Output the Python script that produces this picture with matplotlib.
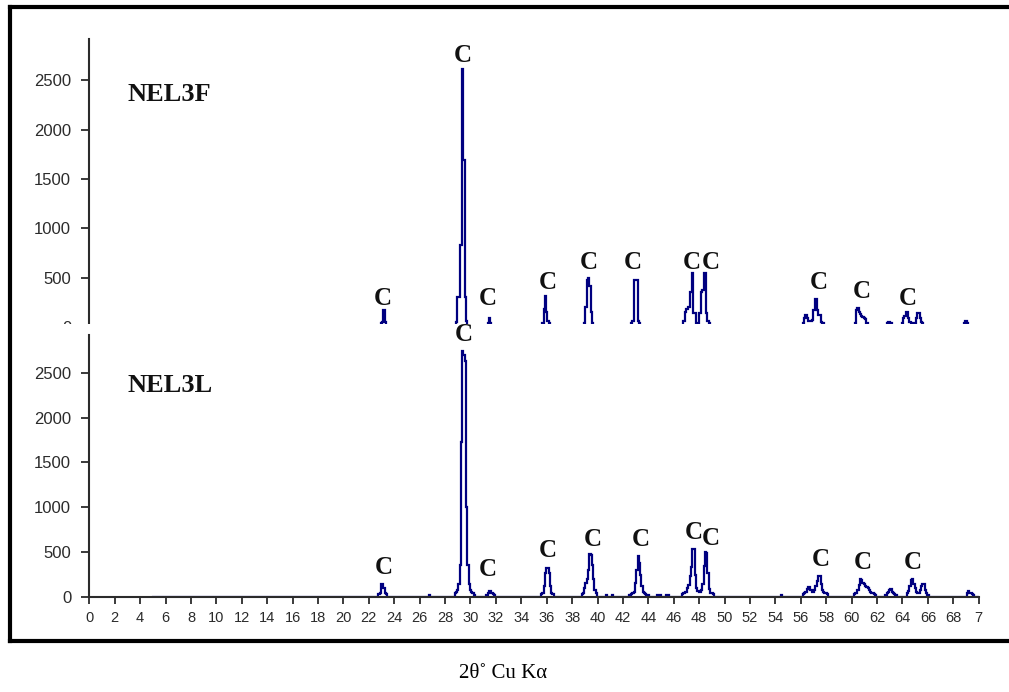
import matplotlib
matplotlib.use("Agg")
import matplotlib.pyplot as plt
from matplotlib.lines import Line2D
from matplotlib.patches import Rectangle

# ---- XRD patterns (2-theta in degrees, intensity in counts) ----
nel3f_2theta = [
    5.0, 22.9, 23.0, 23.1, 23.2, 23.3, 23.4,
    28.8, 28.9, 29.0, 29.1, 29.2, 29.3, 29.4, 29.5, 29.6, 29.7, 29.8,
    31.3, 31.4, 31.5, 31.6, 31.7,
    35.6, 35.7, 35.8, 35.9, 36.0, 36.1, 36.2, 36.3,
    38.9, 39.0, 39.1, 39.2, 39.3, 39.4, 39.5, 39.6, 39.7,
    42.6, 42.7, 42.8, 42.9, 43.0, 43.1, 43.2, 43.3, 43.4,
    46.7, 46.8, 46.9, 47.0, 47.1, 47.2, 47.3, 47.4, 47.5, 47.6, 47.7, 47.8,
    47.9, 48.0, 48.1, 48.2, 48.3, 48.4, 48.5, 48.6, 48.7, 48.8, 48.9,
    56.1, 56.2, 56.3, 56.4, 56.5, 56.6, 56.7, 56.8, 56.9, 57.0, 57.1, 57.2,
    57.3, 57.4, 57.5, 57.6, 57.7, 57.8, 57.9,
    60.2, 60.3, 60.4, 60.5, 60.6, 60.7, 60.8, 60.9, 61.0, 61.1, 61.2, 61.3,
    62.7, 62.8, 62.9, 63.0, 63.1, 63.2,
    63.9, 64.0, 64.1, 64.2, 64.3, 64.4, 64.5, 64.6, 64.7, 64.8, 64.9, 65.0,
    65.1, 65.2, 65.3, 65.4, 65.5, 65.6, 65.7,
    68.8, 68.9, 69.0, 69.1, 69.2, 70.0,
]
nel3f_counts = [
    0, 0, 40, 50, 170, 50, 0,
    0, 50, 300, 300, 830, 830, 2620, 1690, 300, 60, 0,
    0, 40, 90, 40, 0,
    0, 40, 180, 310, 150, 60, 40, 0,
    0, 40, 200, 480, 500, 420, 150, 40, 0,
    0, 40, 60, 480, 480, 480, 60, 40, 0,
    0, 60, 150, 180, 180, 200, 350, 350, 545, 140, 140, 40,
    40, 140, 140, 350, 380, 545, 545, 140, 60, 40, 0,
    0, 40, 90, 120, 90, 60, 60, 60, 70, 170, 170, 285,
    170, 120, 120, 50, 40, 40, 0,
    0, 40, 170, 190, 150, 130, 110, 100, 90, 80, 40, 0,
    0, 40, 50, 50, 40, 0,
    0, 40, 90, 110, 150, 150, 90, 50, 40, 40, 40, 40,
    90, 140, 140, 90, 50, 40, 0,
    0, 40, 60, 40, 0, 0,
]

nel3l_2theta = [
    5.0, 22.7, 22.8, 22.9, 23.0, 23.1, 23.2, 23.3, 23.4, 23.5,
    26.7, 26.8, 26.9,
    28.7, 28.8, 28.9, 29.0, 29.1, 29.2, 29.3, 29.4, 29.5, 29.6, 29.7, 29.8,
    29.9, 30.0, 30.1, 30.2, 30.3, 30.4,
    31.2, 31.3, 31.4, 31.5, 31.6, 31.7, 31.8, 31.9, 32.0,
    35.5, 35.6, 35.7, 35.8, 35.9, 36.0, 36.1, 36.2, 36.3, 36.4, 36.5, 36.6,
    38.7, 38.8, 38.9, 39.0, 39.1, 39.2, 39.3, 39.4, 39.5, 39.6, 39.7, 39.8,
    39.9, 40.0,
    40.6, 40.7, 40.8, 41.1, 41.2, 41.3,
    42.4, 42.5, 42.6, 42.7, 42.8, 42.9, 43.0, 43.1, 43.2, 43.3, 43.4, 43.5,
    43.6, 43.7, 43.8, 43.9, 44.0, 44.1, 44.6, 44.7, 45.3, 45.4, 45.5, 45.8,
    46.6, 46.7, 46.8, 46.9, 47.0, 47.1, 47.2, 47.3, 47.4, 47.5, 47.6, 47.7,
    47.8, 47.9, 48.0, 48.1, 48.2, 48.3, 48.4, 48.5, 48.6, 48.7, 48.8, 48.9,
    49.0, 49.1, 49.2,
    54.4, 54.5, 54.6,
    56.1, 56.2, 56.3, 56.4, 56.5, 56.6, 56.7, 56.8, 56.9, 57.0, 57.1, 57.2,
    57.3, 57.4, 57.5, 57.6, 57.7, 57.8, 57.9, 58.0, 58.1, 58.2,
    60.1, 60.2, 60.3, 60.4, 60.5, 60.6, 60.7, 60.8, 60.9, 61.0, 61.1, 61.2,
    61.3, 61.4, 61.5, 61.6, 61.7, 61.8, 61.9, 62.0,
    62.6, 62.7, 62.8, 62.9, 63.0, 63.1, 63.2, 63.3, 63.4, 63.5, 63.6,
    64.3, 64.4, 64.5, 64.6, 64.7, 64.8, 64.9, 65.0, 65.1, 65.2, 65.3, 65.4,
    65.5, 65.6, 65.7, 65.8, 65.9, 66.0, 66.1,
    69.0, 69.1, 69.2, 69.3, 69.4, 69.5, 69.6, 69.7, 70.0,
]
nel3l_counts = [
    0, 0, 30, 50, 150, 150, 100, 50, 30, 0,
    0, 20, 0,
    0, 40, 60, 80, 150, 360, 1730, 2740, 2700, 2630, 1000, 360,
    150, 80, 60, 40, 20, 0,
    0, 20, 40, 70, 70, 40, 30, 20, 0,
    0, 30, 50, 120, 270, 320, 320, 270, 120, 50, 30, 0,
    0, 30, 50, 100, 160, 200, 300, 480, 470, 360, 200, 80,
    40, 0,
    0, 20, 0, 0, 20, 0,
    0, 20, 20, 30, 40, 60, 160, 300, 460, 380, 250, 120,
    60, 40, 30, 20, 20, 0, 0, 20, 0, 20, 20, 0,
    0, 30, 50, 60, 60, 100, 130, 230, 330, 530, 530, 250,
    100, 70, 60, 60, 80, 150, 350, 500, 490, 270, 90, 50,
    40, 30, 0,
    0, 20, 0,
    0, 30, 40, 60, 90, 115, 110, 80, 60, 60, 80, 120,
    180, 230, 230, 150, 80, 60, 50, 40, 30, 0,
    0, 30, 40, 50, 80, 130, 200, 190, 160, 140, 120, 110,
    100, 80, 60, 50, 40, 30, 20, 0,
    0, 20, 40, 60, 80, 85, 60, 40, 30, 20, 0,
    0, 40, 70, 120, 190, 200, 150, 100, 60, 40, 50, 80,
    120, 140, 140, 80, 40, 20, 0,
    0, 40, 70, 50, 40, 30, 20, 0, 0,
]

# ---- calcite ("C") reflection markers: (2-theta, counts) of each letter ----
nel3f_c_x = [23.1, 29.4, 31.4, 36.05, 39.3, 42.8, 47.4, 48.9, 57.4, 60.8, 64.4]
nel3f_c_y = [294, 2751, 294, 447, 650, 650, 650, 650, 447, 365, 284]
nel3l_c_x = [23.2, 29.5, 31.4, 36.1, 39.6, 43.4, 47.6, 48.9, 57.6, 60.9, 64.8]
nel3l_c_y = [324, 2924, 302, 513, 636, 636, 714, 647, 413, 379, 379]

sample_names = ["NEL3F", "NEL3L"]
y_ticks = [0, 500, 1000, 1500, 2000, 2500]
x_ticks = list(range(0, 71, 2))
x_tick_labels = [str(v) for v in range(0, 69, 2)] + ["7"]
x_axis_title = "2θ˚ Cu Kα"

# ---- figure layout ----
W, H = 1009, 692
fig = plt.figure(figsize=(W / 100, H / 100), dpi=100)
fig.patch.set_facecolor("white")


def fig_rect(left, top, right, bottom):
    """Axes rectangle from pixel edges measured from the top-left corner."""
    return [left / W, 1 - bottom / H, (right - left) / W, (bottom - top) / H]


LINE = "#000080"
AXC = "#2b2b2b"
SANS = ["Liberation Sans", "DejaVu Sans"]
SERIF = ["Liberation Serif", "DejaVu Serif"]
X_LEFT, X_RIGHT = 89.3, 978.7
YMAX = 2920

ax_top = fig.add_axes(fig_rect(X_LEFT, 39, X_RIGHT, 327))
ax_bot = fig.add_axes(fig_rect(X_LEFT, 335, X_RIGHT, 597))
ax_top.set_zorder(0)
ax_bot.set_zorder(2)
ax_bot.patch.set_facecolor("none")

panels = [
    (ax_top, nel3f_2theta, nel3f_counts, nel3f_c_x, nel3f_c_y, sample_names[0], 2294),
    (ax_bot, nel3l_2theta, nel3l_counts, nel3l_c_x, nel3l_c_y, sample_names[1], 2288),
]

for ax, tt, cnt, cx, cy, name, name_y in panels:
    ax.plot(tt, cnt, drawstyle="steps-mid", color=LINE, lw=1.6, solid_joinstyle="miter")
    ax.set_xlim(0, 70)
    ax.set_ylim(0, YMAX)
    for side in ("top", "right"):
        ax.spines[side].set_visible(False)
    for side in ("left", "bottom"):
        ax.spines[side].set_color(AXC)
        ax.spines[side].set_linewidth(1.5)
    ax.set_yticks(y_ticks)
    ax.set_yticklabels([str(v) for v in y_ticks], family=SANS, fontsize=12, color=AXC)
    ax.tick_params(axis="y", direction="out", length=6, width=1.3, color=AXC, pad=7)
    ax.set_xticks(x_ticks)
    ax.set_xticklabels(x_tick_labels, family=SANS, fontsize=10.5, color=AXC)
    ax.tick_params(axis="x", direction="out", length=5, width=1.3, color=AXC, pad=5)
    for x, y in zip(cx, cy):
        ax.text(x, y, "C", ha="center", va="center", family=SERIF,
                fontweight="bold", fontsize=18, color="#111111", zorder=5)
    ax.text(3.0, name_y, name, ha="left", va="baseline", family=SERIF,
            fontweight="bold", fontsize=19, color="#111111")

# upper panel shows no x axis of its own
ax_top.spines["bottom"].set_visible(False)
ax_top.tick_params(axis="x", bottom=False, labelbottom=False)

# lower panel overlaps the foot of the upper one
fig.add_artist(Rectangle((15 / W, 1 - 334 / H), 1, 10 / H, transform=fig.transFigure,
                         facecolor="white", edgecolor="none", zorder=1))

# frame around the chart (open on the right)
frame_kw = dict(transform=fig.transFigure, color="black", lw=3.0,
                solid_capstyle="projecting", zorder=10)
fig.add_artist(Line2D([10 / W, 10 / W], [1 - 641 / H, 1 - 7 / H], **frame_kw))
fig.add_artist(Line2D([10 / W, 1.01], [1 - 7 / H, 1 - 7 / H], **frame_kw))
fig.add_artist(Line2D([10 / W, 1.01], [1 - 641 / H, 1 - 641 / H], **frame_kw))

fig.text(503 / W, 1 - 674 / H, x_axis_title, ha="center", va="center",
         family=SERIF, fontsize=15, color="black")

fig.savefig("out.png", dpi=100, facecolor="white")
